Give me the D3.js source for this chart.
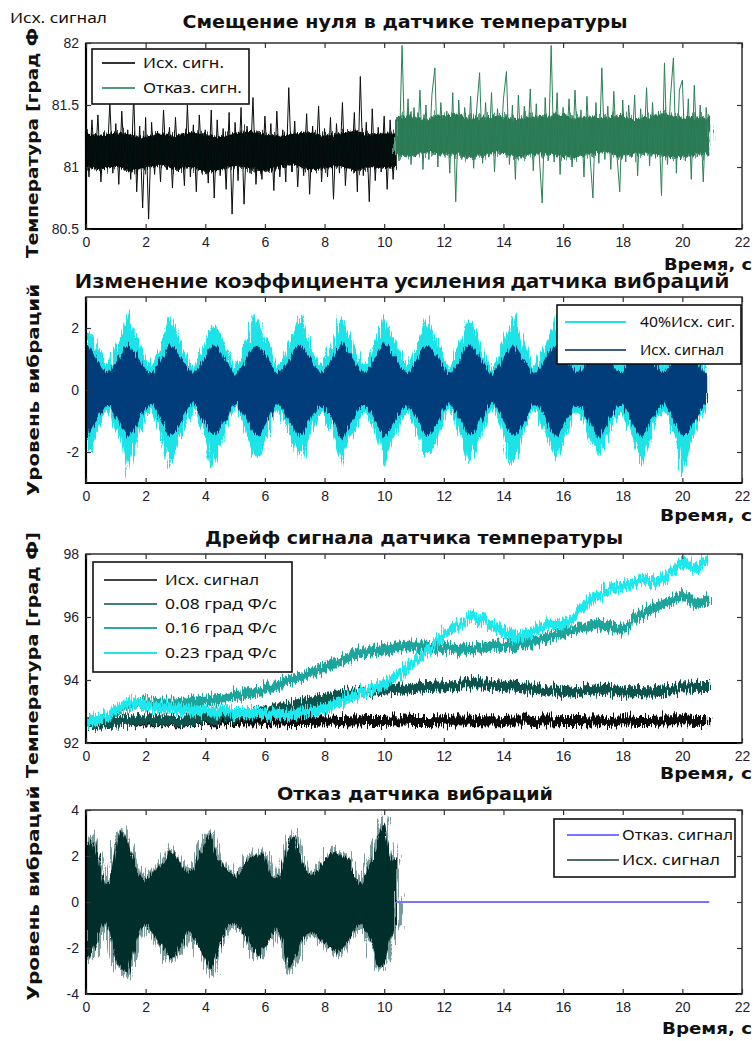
<!DOCTYPE html>
<html><head><meta charset="utf-8">
<script src="https://cdn.jsdelivr.net/npm/d3@7"></script>
<style>body{margin:0;background:#fff}svg{display:block}</style>
</head><body>
<script>
// ---------------- DATA ----------------
const xTicks = [0,2,4,6,8,10,12,14,16,18,20,22];

// Panel 1: temperature sensor zero offset (samples every 0.1 s)
const p1Step = 0.1;
const p1InitialStart = 0;
const p1Initial = [
 81.30,80.92,81.38,80.98,81.42,80.88,81.28,81.00,81.52,80.95,
 81.35,80.86,81.45,80.97,81.30,80.90,81.58,80.80,81.33,80.67,
 81.40,80.58,81.36,80.94,81.29,80.88,81.46,80.98,81.32,80.83,
 81.40,80.96,81.27,80.85,81.50,80.92,81.34,80.80,81.42,80.97,
 81.30,80.87,81.46,80.75,81.38,80.93,81.31,80.82,81.44,80.62,
 81.36,80.89,81.48,80.70,81.33,80.95,81.56,80.86,81.29,80.90,
 81.41,80.98,81.35,80.81,81.45,80.92,81.30,80.88,81.64,80.96,
 81.37,80.84,81.28,80.93,81.43,80.78,81.33,80.97,81.49,80.88,
 81.31,80.92,81.40,80.74,81.35,80.95,81.52,80.85,81.29,80.98,
 81.44,80.80,81.73,80.93,81.36,80.72,81.47,80.89,81.32,80.96,
 81.41,80.82,81.38,80.90,81.30];
const p1FaultStart = 10.4;
const p1Fault = [
 81.25,81.05,81.98,81.08,81.55,81.02,81.48,81.10,81.62,80.98,
 81.50,81.06,81.58,81.80,81.00,81.52,81.12,81.45,80.95,81.60,
 80.72,81.54,81.06,81.48,81.11,81.57,80.99,81.46,81.76,81.03,
 81.52,81.08,81.60,80.96,81.47,81.10,81.55,81.77,81.02,81.50,
 80.90,81.58,81.07,81.49,81.12,81.63,80.97,81.51,81.09,80.71,
 81.56,81.05,81.98,81.04,81.60,80.94,81.48,81.11,81.55,81.00,
 81.62,81.08,81.46,80.92,81.57,81.10,80.75,81.52,81.03,81.80,
 81.06,81.49,80.98,81.61,81.12,80.80,81.54,81.04,81.50,81.09,
 81.58,80.93,81.47,81.10,81.64,81.01,81.52,81.07,81.45,80.77,
 81.84,81.02,81.56,81.88,80.95,81.62,81.70,81.05,81.55,80.90,
 81.66,81.08,81.50,80.88,81.48,81.20];
// dense core of each part (every 0.5 s, last point at the segment end)
const p1CoreTimesA = [0,0.5,1,1.5,2,2.5,3,3.5,4,4.5,5,5.5,6,6.5,7,7.5,8,8.5,9,9.5,10,10.4];
const p1CoreHiA = [81.27,81.25,81.28,81.26,81.24,81.27,81.25,81.28,81.26,81.24,81.27,
                   81.29,81.26,81.25,81.27,81.28,81.25,81.27,81.29,81.26,81.27,81.27];
const p1CoreLoA = [81.00,80.98,81.01,80.97,80.99,81.02,80.98,81.00,80.96,80.98,81.01,
                   80.99,80.97,81.00,81.02,80.98,80.99,81.01,80.97,81.00,80.99,81.00];
const p1CoreTimesB = [10.4,10.9,11.4,11.9,12.4,12.9,13.4,13.9,14.4,14.9,15.4,15.9,16.4,16.9,
                      17.4,17.9,18.4,18.9,19.4,19.9,20.4,20.9];
const p1CoreHiB = [81.40,81.42,81.38,81.41,81.43,81.39,81.40,81.42,81.38,81.41,81.40,
                   81.43,81.39,81.41,81.40,81.42,81.38,81.41,81.43,81.40,81.39,81.40];
const p1CoreLoB = [81.10,81.08,81.12,81.09,81.11,81.07,81.10,81.12,81.08,81.10,81.11,
                   81.09,81.07,81.10,81.12,81.08,81.10,81.11,81.09,81.07,81.10,81.10];
const p1YTicks = [80.5,81,81.5,82];
const p1Legend = ["Исх. сигн.","Отказ. сигн."];

// Panel 2: vibration gain change (envelope every 0.2 s)
const p2Step = 0.2;
const p2NavyHi = [
 1.55,1.24,0.93,0.63,0.58,0.89,1.19,1.50,1.30,0.99,
 0.68,0.53,0.84,1.14,1.45,1.34,1.03,0.73,0.47,0.78,
 1.09,1.40,1.40,1.09,0.78,0.47,0.74,1.04,1.35,1.45,
 1.14,0.84,0.53,0.68,0.99,1.30,1.50,1.19,0.88,0.57,
 0.64,0.93,1.24,1.55,1.24,0.93,0.63,0.58,0.89,1.20,
 1.51,1.29,0.99,0.68,0.53,0.84,1.14,1.45,1.34,1.03,
 0.73,0.48,0.79,1.10,1.40,1.40,1.09,0.78,0.47,0.74,
 1.04,1.35,1.44,1.13,0.82,0.52,0.68,0.99,1.30,1.50,
 1.19,0.88,0.57,0.64,0.95,1.25,1.54,1.24,0.93,0.63,
 0.58,0.89,1.20,1.51,1.29,0.98,0.67,0.54,0.85,1.14,
 1.45,1.34,1.03,0.73,0.48];
const p2NavyLo = [
 -1.60,-1.25,-0.90,-0.55,-0.50,-0.85,-1.19,-1.54,-1.31,-0.96,
 -0.61,-0.44,-0.79,-1.14,-1.49,-1.36,-1.01,-0.66,-0.38,-0.73,
 -1.08,-1.43,-1.43,-1.08,-0.73,-0.38,-0.68,-1.03,-1.38,-1.49,
 -1.14,-0.79,-0.44,-0.61,-0.96,-1.31,-1.54,-1.19,-0.84,-0.49,
 -0.56,-0.90,-1.25,-1.60,-1.25,-0.90,-0.55,-0.50,-0.85,-1.20,
 -1.55,-1.30,-0.96,-0.61,-0.44,-0.79,-1.14,-1.49,-1.36,-1.01,
 -0.66,-0.39,-0.74,-1.09,-1.43,-1.43,-1.08,-0.73,-0.38,-0.68,
 -1.03,-1.38,-1.48,-1.13,-0.78,-0.43,-0.61,-0.96,-1.31,-1.54,
 -1.19,-0.84,-0.49,-0.56,-0.91,-1.26,-1.59,-1.25,-0.90,-0.55,
 -0.50,-0.85,-1.20,-1.55,-1.30,-0.95,-0.60,-0.45,-0.80,-1.14,
 -1.49,-1.36,-1.01,-0.66,-0.39];
const p2CyanHi = [
 2.05,1.80,1.35,0.91,0.84,1.35,1.85,2.62,1.95,1.43,
 0.99,0.76,1.21,1.75,2.45,2.00,1.50,1.05,0.68,1.13,
 1.58,2.05,2.03,1.58,1.13,0.68,1.07,1.55,2.40,2.15,
 1.66,1.21,0.76,0.99,1.43,1.95,2.45,1.75,1.27,0.83,
 0.92,1.35,1.85,2.40,1.80,1.35,0.91,0.84,1.29,1.80,
 2.38,1.90,1.43,0.99,0.76,1.21,1.70,2.35,1.98,1.50,
 1.05,0.70,1.15,1.60,2.30,2.10,1.58,1.13,0.68,1.07,
 1.55,2.05,2.45,1.64,1.19,0.75,0.99,1.43,1.90,2.40,
 1.72,1.27,0.83,0.92,1.37,1.85,2.45,1.80,1.35,0.91,
 0.84,1.29,1.75,2.35,1.87,1.42,0.97,0.78,1.23,1.66,
 2.30,1.95,1.50,1.05,0.70];
const p2CyanLo = [
 -2.20,-1.80,-1.29,-0.79,-0.72,-1.22,-1.75,-2.74,-1.90,-1.38,
 -0.88,-0.63,-1.13,-1.70,-2.53,-2.00,-1.45,-0.95,-0.54,-1.04,
 -1.55,-2.60,-2.05,-1.54,-1.04,-0.54,-0.97,-1.47,-2.10,-2.20,
 -1.63,-1.13,-0.63,-0.88,-1.38,-1.90,-2.30,-1.70,-1.20,-0.70,
 -0.81,-1.29,-1.80,-2.50,-1.80,-1.29,-0.79,-0.72,-1.22,-1.75,
 -2.50,-1.87,-1.38,-0.88,-0.63,-1.13,-1.63,-2.15,-1.96,-1.45,
 -0.95,-0.55,-1.06,-1.56,-2.42,-2.05,-1.54,-1.04,-0.54,-0.97,
 -1.47,-2.45,-2.12,-1.62,-1.11,-0.61,-0.88,-1.38,-1.89,-2.20,
 -1.71,-1.20,-0.70,-0.81,-1.31,-1.81,-2.20,-1.80,-1.29,-0.79,
 -0.72,-1.22,-1.72,-2.45,-1.87,-1.36,-0.86,-0.64,-1.15,-1.63,
 -2.74,-1.96,-1.45,-0.95,-0.55];
const p2YTicks = [-2,0,2];
const p2Legend = ["40%Исх. сиг.","Исх. сигнал"];

// Panel 3: temperature drift (centre of band)
const p3Times = [0,0.5,1,1.5,2,2.5,3,3.5,4,4.5,5,5.5,6,6.5,7,7.5,8,8.5,9,9.5,
 10,10.5,11,11.5,12,12.5,13,13.5,14,14.5,15,15.5,16,16.5,17,17.5,18,18.5,19,19.5,20,20.5,20.9];
const p3Initial = [
 92.65,92.70,92.65,92.70,92.68,92.70,92.65,92.70,92.70,92.68,
 92.70,92.72,92.70,92.68,92.70,92.70,92.72,92.70,92.68,92.70,
 92.70,92.72,92.70,92.70,92.68,92.72,92.70,92.68,92.70,92.72,
 92.70,92.68,92.70,92.70,92.68,92.70,92.72,92.70,92.70,92.72,
 92.72,92.70,92.70];
const p3Drift008 = [
 92.60,92.62,92.65,92.70,92.75,92.72,92.70,92.72,92.75,92.80,
 92.85,92.92,93.00,93.10,93.20,93.30,93.40,93.50,93.60,93.65,
 93.70,93.72,93.75,93.78,93.80,93.85,93.90,93.88,93.82,93.78,
 93.72,93.68,93.62,93.65,93.70,93.68,93.60,93.62,93.60,93.65,
 93.80,93.78,93.78];
const p3Drift016 = [
 92.60,92.80,93.00,93.20,93.30,93.25,93.25,93.30,93.35,93.40,
 93.50,93.60,93.70,93.85,94.00,94.20,94.40,94.60,94.80,94.90,
 95.00,95.05,95.10,95.05,95.00,94.95,95.00,95.05,95.10,95.15,
 95.20,95.35,95.50,95.65,95.75,95.70,95.60,96.05,96.25,96.45,
 96.70,96.40,96.55];
const p3Drift023 = [
 92.60,92.80,93.05,93.30,93.20,93.10,93.10,93.05,93.00,93.00,
 92.95,92.95,92.90,92.90,92.95,93.00,93.10,93.30,93.50,93.70,
 93.85,94.20,94.55,95.00,95.45,95.75,96.05,95.80,95.55,95.35,
 95.55,95.80,95.75,96.20,96.60,96.85,97.00,97.15,97.10,97.30,
 97.75,97.50,97.95];
const p3NoiseHalf = 0.16;
const p3YTicks = [92,94,96,98];
const p3Legend = ["Исх. сигнал","0.08 град Ф/с","0.16 град Ф/с","0.23 град Ф/с"];

// Panel 4: vibration sensor failure (envelope every 0.2 s until failure)
const p4Step = 0.2;
const p4Hi = [
 2.40,2.80,2.00,0.75,0.90,2.60,3.10,2.60,1.70,1.20,
 0.90,1.25,1.50,1.70,2.30,2.00,1.60,1.30,1.40,2.10,
 2.70,3.00,1.95,1.60,1.30,1.05,1.40,1.85,2.00,2.05,
 2.10,1.20,0.95,1.60,2.65,2.90,1.90,1.35,1.15,1.40,
 1.80,2.10,2.20,2.00,1.90,1.10,0.75,1.30,1.90,2.90,
 3.40,1.85,1.85];
const p4Lo = [
 -2.50,-2.30,-1.50,-0.85,-1.30,-2.60,-2.90,-3.20,-2.10,-1.20,
 -1.00,-1.30,-1.65,-2.00,-2.50,-2.30,-1.90,-1.20,-1.50,-2.00,
 -2.50,-3.05,-2.20,-1.50,-1.00,-0.95,-1.15,-1.70,-2.10,-2.40,
 -2.00,-1.50,-1.10,-1.80,-2.90,-2.50,-1.80,-1.40,-1.30,-1.55,
 -1.80,-2.00,-2.25,-2.00,-1.75,-1.20,-0.95,-1.30,-1.90,-2.85,
 -2.75,-1.60,-0.95];
const p4FaultT = [10.4,20.9];
const p4FaultV = [0,0];
const p4YTicks = [-4,-2,0,2,4];
const p4Legend = ["Отказ. сигнал","Исх. сигнал"];

const titles = ["Смещение нуля в датчике температуры","Изменение коэффициента усиления датчика вибраций",
                "Дрейф сигнала датчика температуры","Отказ датчика вибраций"];
const yLabels = ["Температура [град Ф","Уровень вибраций","Температура [град Ф]","Уровень вибраций"];
const xLabel = "Время, с";
const cornerLabel = "Исх. сигнал";

// ---------------- RENDER ----------------
const W=756,H=1041;
const svg=d3.select("body").append("svg").attr("width",W).attr("height",H);
const defs=svg.append("defs");
function roughFilter(id, scale, fx, seed){
  const f=defs.append("filter").attr("id",id).attr("filterUnits","userSpaceOnUse")
    .attr("x",0).attr("y",0).attr("width",W).attr("height",H);
  f.append("feTurbulence").attr("type","fractalNoise").attr("baseFrequency",fx+" 0.03")
    .attr("numOctaves",2).attr("seed",seed).attr("result","n");
  f.append("feDisplacementMap").attr("in","SourceGraphic").attr("in2","n").attr("scale",scale)
    .attr("xChannelSelector","R").attr("yChannelSelector","G");
}
roughFilter("roughS",9,0.7,3);
roughFilter("roughL",14,0.6,5);
roughFilter("roughB",16,0.8,11);
roughFilter("roughC",22,0.9,17);

const L=86,R=742;
const x=d3.scaleLinear().domain([0,22]).range([L,R]);
const TICKFONT="'Liberation Sans', Arial, sans-serif";
const BOLDFONT="'DejaVu Sans', Verdana, sans-serif";
const LEGFONT="'Noto Sans', 'Open Sans', sans-serif";

function fit(sel,w){
  const n=sel.node(); const l=n.getComputedTextLength();
  if(Math.abs(l-w)>1.5) sel.attr("textLength",w).attr("lengthAdjust","spacingAndGlyphs");
  return sel;
}
function text(str,xp,yp,o){
  const t=svg.append("text").attr("x",xp).attr("y",yp).text(str)
    .attr("font-family",o.family||LEGFONT).attr("font-size",o.size||14)
    .attr("font-weight",o.weight||"normal").attr("fill",o.fill||"#111")
    .attr("text-anchor",o.anchor||"start");
  if(o.rotate) t.attr("transform",`rotate(-90,${xp},${yp})`);
  if(o.width) fit(t,o.width);
  return t;
}

function makePanel(id,top,bottom,domain){
  const y=d3.scaleLinear().domain(domain).range([bottom,top]);
  defs.append("clipPath").attr("id","clip"+id).append("rect")
    .attr("x",L).attr("y",top).attr("width",R-L).attr("height",bottom-top);
  const data=svg.append("g").attr("clip-path",`url(#clip${id})`);
  return {y,top,bottom,data};
}
function drawAxes(p,yTicks){
  const g=svg.append("g");
  g.append("rect").attr("x",L).attr("y",p.top).attr("width",R-L).attr("height",p.bottom-p.top)
    .attr("fill","none").attr("stroke","#222").attr("stroke-width",1.4);
  g.append("path").attr("d",`M${L},${p.top}V${p.bottom}H${R}`).attr("fill","none")
    .attr("stroke","#000").attr("stroke-width",2.2);
  const fmt=d=>String(d);
  const b=g.append("g").attr("transform",`translate(0,${p.bottom})`)
    .call(d3.axisBottom(x).tickValues(xTicks).tickSize(-5).tickPadding(8).tickFormat(fmt));
  const t=g.append("g").attr("transform",`translate(0,${p.top})`)
    .call(d3.axisTop(x).tickValues(xTicks).tickSize(-5).tickFormat(""));
  const l=g.append("g").attr("transform",`translate(${L},0)`)
    .call(d3.axisLeft(p.y).tickValues(yTicks).tickSize(-5).tickPadding(7).tickFormat(fmt));
  const r=g.append("g").attr("transform",`translate(${R},0)`)
    .call(d3.axisRight(p.y).tickValues(yTicks).tickSize(-5).tickFormat(""));
  [t,r].forEach(a=>a.selectAll("text").remove());
  [b,t,l,r].forEach(a=>{
    a.select(".domain").remove();
    a.selectAll("line").attr("stroke","#333").attr("stroke-width",1.2);
    a.selectAll("text").attr("font-family",TICKFONT).attr("font-size",14).attr("fill","#1c1c34");
  });
}
function legend(x0,y0,w,h,items,lineX0,lineX1,textX,rowYs,textWidths,fs){
  svg.append("rect").attr("x",x0).attr("y",y0).attr("width",w).attr("height",h)
    .attr("fill","#fff").attr("stroke","#111").attr("stroke-width",1.6);
  items.forEach((it,i)=>{
    svg.append("line").attr("x1",lineX0).attr("x2",lineX1).attr("y1",rowYs[i]).attr("y2",rowYs[i])
      .attr("stroke",it.color).attr("stroke-width",it.w||1.8);
    text(it.label,textX,rowYs[i]+5,{size:fs,width:textWidths[i]});
  });
}

// corner label
text(cornerLabel,10,23,{size:14,width:97});

// ---------- Panel 1 ----------
const P1=makePanel(1,43,229,[80.5,82]);
const p1Line=(start)=>d3.line().x((d,i)=>x(start+i*p1Step)).y(d=>P1.y(d));
const p1Core=(times,lo)=>d3.area().x((d,i)=>x(times[i])).y0((d,i)=>P1.y(lo[i])).y1(d=>P1.y(d));
P1.data.append("path").attr("d",p1Core(p1CoreTimesA,p1CoreLoA)(p1CoreHiA)).attr("fill","#3a3f3e").attr("filter","url(#roughC)");
P1.data.append("path").attr("d",p1Core(p1CoreTimesA,p1CoreLoA)(p1CoreHiA)).attr("fill","#050807").attr("filter","url(#roughS)");
P1.data.append("path").attr("d",p1Line(p1InitialStart)(p1Initial)).attr("fill","none")
  .attr("stroke","#0a0f0e").attr("stroke-width",1);
P1.data.append("path").attr("d",p1Core(p1CoreTimesB,p1CoreLoB)(p1CoreHiB)).attr("fill","#5a9c7c").attr("filter","url(#roughC)");
P1.data.append("path").attr("d",p1Core(p1CoreTimesB,p1CoreLoB)(p1CoreHiB)).attr("fill","#2c7a55").attr("filter","url(#roughS)");
P1.data.append("path").attr("d",p1Line(p1FaultStart)(p1Fault)).attr("fill","none")
  .attr("stroke","#2e8059").attr("stroke-width",1);
drawAxes(P1,p1YTicks);
legend(92,49,157,55,[{label:p1Legend[0],color:"#333"},{label:p1Legend[1],color:"#4f9a78"}],
  102,135,143,[63,88],[81,99],15);
text(titles[0],405,28,{family:BOLDFONT,weight:"bold",size:17,anchor:"middle",width:445});
text(yLabels[0],38,258,{family:BOLDFONT,weight:"bold",size:16,rotate:true,width:230});
text(xLabel,752,270,{family:BOLDFONT,weight:"bold",size:16,anchor:"end",width:88});

// ---------- Panel 2 ----------
const P2=makePanel(2,297,483,[-3,3]);
const p2Area=(hi,lo)=>d3.area().x((d,i)=>x(i*p2Step)).y0((d,i)=>P2.y(lo[i])).y1(d=>P2.y(d))(hi);
P2.data.append("path").attr("d",p2Area(p2CyanHi,p2CyanLo)).attr("fill","#1ee3e8").attr("filter","url(#roughL)");
P2.data.append("path").attr("d",p2Area(p2NavyHi,p2NavyLo)).attr("fill","#063e7a").attr("filter","url(#roughS)");
drawAxes(P2,p2YTicks);
legend(557,305,184,59,[{label:p2Legend[0],color:"#1ee3e8",w:2.2},{label:p2Legend[1],color:"#3d5f86"}],
  565,626,640,[322,350],[95,84],14);
text(titles[1],402,288,{family:LEGFONT,weight:"bold",size:20,anchor:"middle",width:655});
text(yLabels[1],39,390,{family:BOLDFONT,weight:"bold",size:16,rotate:true,anchor:"middle",width:212});
text(xLabel,752,521,{family:BOLDFONT,weight:"bold",size:16,anchor:"end",width:92});

// ---------- Panel 3 ----------
const P3=makePanel(3,554,743,[92,98]);
const p3Band=(c)=>d3.area().x((d,i)=>x(p3Times[i])).y0(d=>P3.y(d-p3NoiseHalf)).y1(d=>P3.y(d+p3NoiseHalf))(c);
[[p3Initial,"#0b0b0b"],[p3Drift008,"#0c524e"],[p3Drift016,"#1ea49d"],[p3Drift023,"#1fe8ee"]].forEach(([c,col])=>{
  P3.data.append("path").attr("d",p3Band(c)).attr("fill",col).attr("filter","url(#roughB)");
});
drawAxes(P3,p3YTicks);
legend(93,562,199,110,[{label:p3Legend[0],color:"#444"},{label:p3Legend[1],color:"#3f807b"},
  {label:p3Legend[2],color:"#2aaaa4"},{label:p3Legend[3],color:"#22e6ec"}],
  104,157,165,[580,604,628,653],[94,112,112,112],15);
text(titles[2],414,544,{family:BOLDFONT,weight:"bold",size:17,anchor:"middle",width:418});
text(yLabels[2],38,655,{family:BOLDFONT,weight:"bold",size:16,rotate:true,anchor:"middle",width:246});
text(xLabel,752,779,{family:BOLDFONT,weight:"bold",size:16,anchor:"end",width:92});

// ---------- Panel 4 ----------
const P4=makePanel(4,810,994,[-4,4]);
const p4Area=d3.area().x((d,i)=>x(i*p4Step)).y0((d,i)=>P4.y(p4Lo[i])).y1(d=>P4.y(d));
P4.data.append("path").attr("d",p4Area(p4Hi)).attr("fill","#7a9b99").attr("stroke","#7a9b99")
  .attr("stroke-width",5).attr("filter","url(#roughC)");
P4.data.append("path").attr("d",p4Area(p4Hi)).attr("fill","#062e2b").attr("filter","url(#roughS)");
P4.data.append("path").attr("d",d3.line().x(d=>x(d)).y((d,i)=>P4.y(p4FaultV[i]))(p4FaultT))
  .attr("fill","none").attr("stroke","#7575ff").attr("stroke-width",2);
drawAxes(P4,p4YTicks);
legend(554,819,181,58,[{label:p4Legend[0],color:"#7575ff",w:2.2},{label:p4Legend[1],color:"#4f6f6d"}],
  567,619,622,[835,860],[111,98],14);
text(titles[3],415,800,{family:BOLDFONT,weight:"bold",size:17,anchor:"middle",width:276});
text(yLabels[3],39,893,{family:BOLDFONT,weight:"bold",size:16,rotate:true,anchor:"middle",width:215});
text(xLabel,752,1034,{family:BOLDFONT,weight:"bold",size:16,anchor:"end",width:90});
</script>
</body></html>
